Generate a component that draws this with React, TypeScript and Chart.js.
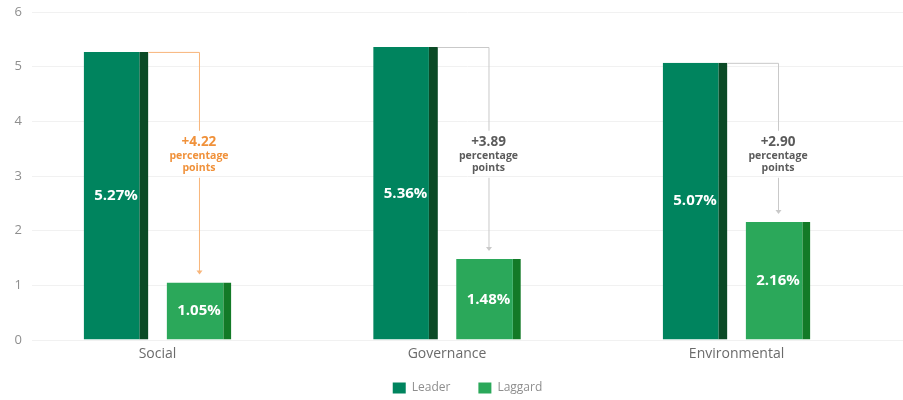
import React, { useEffect, useRef } from "react";
import { Chart, registerables } from "chart.js";

Chart.register(...registerables);

const categories = ["Social", "Governance", "Environmental"];
const leaderValues = [5.27, 5.36, 5.07];
const laggardValues = [1.05, 1.48, 2.16];
const gapLabels = ["+4.22", "+3.89", "+2.90"];
const yTicks = [0, 1, 2, 3, 4, 5, 6];

const FONT = "'Open Sans', 'Noto Sans', sans-serif";

const labelRoomPlugin = {
  id: "labelRoom",
  afterLayout(chart: any) {
    // let the category labels overflow into the legend band without clipping
    const x = chart.scales.x;
    if (x) x.bottom = chart.height;
  },
};

const annotationPlugin = {
  id: "gapAnnotations",
  afterDatasetsDraw(chart: any) {
    const ctx = chart.ctx;
    const m0 = chart.getDatasetMeta(0);
    const m1 = chart.getDatasetMeta(1);
    const yScale = chart.scales.y;
    ctx.save();
    ctx.fillStyle = "#ffffff";
    ctx.font = `bold 15px ${FONT}`;
    ctx.textAlign = "center";
    ctx.textBaseline = "middle";
    [m0, m1].forEach((meta: any, di: number) => {
      const vals = di === 0 ? leaderValues : laggardValues;
      meta.data.forEach((bar: any, i: number) => {
        const midY = (bar.y + bar.base) / 2;
        ctx.fillText(vals[i].toFixed(2) + "%", bar.x, midY);
      });
    });
    ctx.restore();

    const textMid = yScale.getPixelForValue(3.37);
    m0.data.forEach((lead: any, i: number) => {
      const lag = m1.data[i];
      const x0 = lead.x + lead.width / 2;
      const x1 = lag.x;
      const yTop = lead.y;
      const yEnd = lag.y - 8;
      const highlight = i === 0;
      const lineColor = highlight ? "#F8B57A" : "#C9C9C9";
      const textColor = highlight ? "#F0913A" : "#5B5B5B";
      const gapTop = textMid - 25;
      const gapBottom = textMid + 22;
      ctx.save();
      ctx.strokeStyle = lineColor;
      ctx.lineWidth = 1;
      ctx.beginPath();
      ctx.moveTo(x0, yTop + 0.5);
      ctx.lineTo(x1 + 0.5, yTop + 0.5);
      ctx.lineTo(x1 + 0.5, gapTop);
      ctx.moveTo(x1 + 0.5, gapBottom);
      ctx.lineTo(x1 + 0.5, yEnd - 3);
      ctx.stroke();
      ctx.fillStyle = lineColor;
      ctx.beginPath();
      ctx.moveTo(x1 + 0.5 - 3, yEnd - 4);
      ctx.lineTo(x1 + 0.5 + 3, yEnd - 4);
      ctx.lineTo(x1 + 0.5, yEnd);
      ctx.closePath();
      ctx.fill();
      ctx.fillStyle = textColor;
      ctx.textAlign = "center";
      ctx.textBaseline = "middle";
      ctx.font = `bold 13.5px ${FONT}`;
      ctx.fillText(gapLabels[i], x1, textMid - 14);
      ctx.font = `bold 10.5px ${FONT}`;
      ctx.fillText("percentage", x1, textMid);
      ctx.fillText("points", x1, textMid + 12);
      ctx.restore();
    });
  },
};

export default function App() {
  const ref = useRef<HTMLCanvasElement | null>(null);
  useEffect(() => {
    if (!ref.current) return;
    const chart = new Chart(ref.current, {
      type: "bar",
      data: {
        datasets: [
          {
            label: "Leader",
            data: leaderValues.map((v, i) => ({ x: i, y: v })),
            backgroundColor: "#00845E",
            borderColor: "#0B4A26",
            borderWidth: { left: 0, top: 0, bottom: 0, right: 9 },
            borderSkipped: false,
          },
          {
            label: "Laggard",
            data: laggardValues.map((v, i) => ({ x: i, y: v })),
            backgroundColor: "#2BA85A",
            borderColor: "#137A27",
            borderWidth: { left: 0, top: 0, bottom: 0, right: 8 },
            borderSkipped: false,
          },
        ] as any,
      },
      options: {
        animation: false,
        responsive: true,
        maintainAspectRatio: false,
        datasets: {
          bar: { categoryPercentage: 0.573, barPercentage: 0.78 },
        } as any,
        layout: { padding: { top: 12, bottom: 0, right: 0, left: 0 } },
        scales: {
          x: {
            type: "linear",
            offset: false,
            min: -0.4335,
            max: 2.575,
            afterBuildTicks: (scale: any) => {
              scale.ticks = categories.map((_, i) => ({ value: i }));
            },
            afterFit: (scale: any) => {
              scale.height = 14;
            },
            ticks: {
              callback: (v: any) => categories[v] ?? "",
              color: "#6B6B6B",
              font: { family: FONT, size: 14 },
              padding: 6,
              maxRotation: 0,
              autoSkip: false,
            },
            grid: { display: false, offset: false, drawTicks: false },
            border: { display: false },
          },
          y: {
            min: 0,
            max: 6,
            afterBuildTicks: (scale: any) => {
              scale.ticks = yTicks.map((v) => ({ value: v }));
            },
            afterFit: (scale: any) => {
              scale.width = 32;
              scale.paddingTop = 0;
              scale.paddingBottom = 0;
            },
            ticks: {
              color: "#8E8E8E",
              font: { family: FONT, size: 13 },
              padding: 10,
            },
            grid: { color: "#F1F1F1", drawTicks: false },
            border: { display: false },
          },
        },
        plugins: {
          legend: {
            position: "bottom",
            fullSize: false,
            maxHeight: 46,
            labels: {
              boxWidth: 13,
              boxHeight: 11,
              color: "#8E8E8E",
              font: { family: FONT, size: 12 },
              padding: 28,
              generateLabels: (c: any) =>
                Chart.defaults.plugins.legend.labels
                  .generateLabels(c)
                  .map((l: any) => ({ ...l, lineWidth: 0, strokeStyle: l.fillStyle })),
            },
          },
          tooltip: { enabled: false },
        },
      },
      plugins: [labelRoomPlugin, annotationPlugin],
    });
    return () => chart.destroy();
  }, []);
  return (
    <div style={{ position: "fixed", left: 0, top: 0, width: 903, height: 400, background: "#fff" }}>
      <canvas ref={ref} />
    </div>
  );
}
